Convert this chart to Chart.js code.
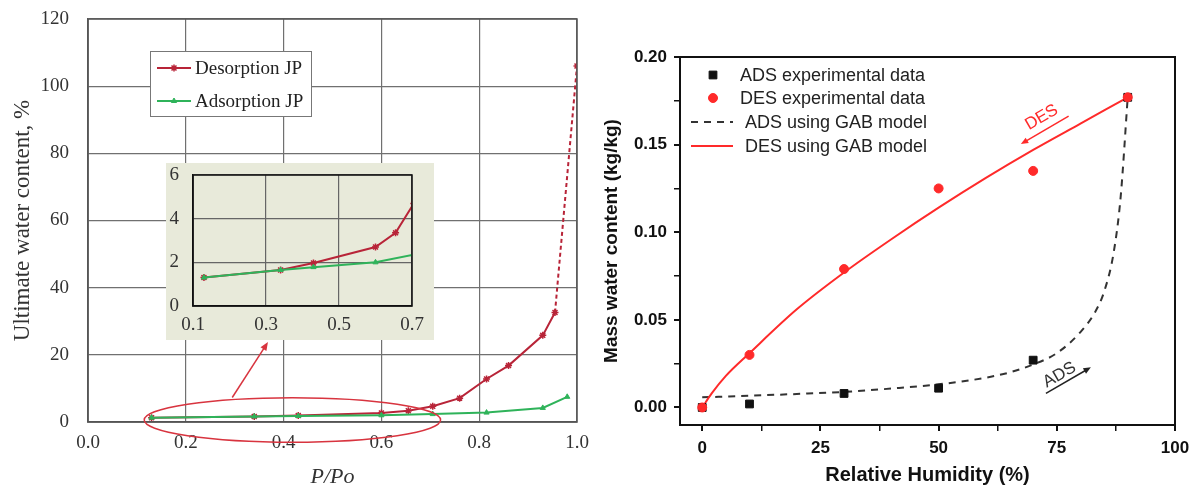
<!DOCTYPE html>
<html>
<head>
<meta charset="utf-8">
<script src="https://cdn.jsdelivr.net/npm/chart.js@4.4.1/dist/chart.umd.min.js"></script>
<style>
  body { margin: 0; background: #fff; }
  #wrap { position: relative; width: 1197px; height: 488px; }
  canvas { position: absolute; }
</style>
</head>
<body>
<div id="wrap">
  <canvas id="c-left" width="600" height="488" style="left:0;top:0"></canvas>
  <canvas id="c-inset" width="268" height="177" style="left:166px;top:163px"></canvas>
  <canvas id="c-right" width="597" height="488" style="left:600px;top:0"></canvas>
</div>
<script>
/* ---- left panel: JP isotherms ---- */
const JP_DES_X = [0.13, 0.34, 0.43, 0.60, 0.655, 0.705, 0.76, 0.815, 0.86, 0.93, 0.955, 1.0];
const JP_DES_Y = [1.3, 1.65, 1.97, 2.7, 3.35, 4.7, 7.1, 12.8, 16.8, 25.8, 32.6, 106];
const JP_ADS_X = [0.13, 0.34, 0.43, 0.60, 0.705, 0.815, 0.93, 0.98];
const JP_ADS_Y = [1.3, 1.65, 1.78, 2.0, 2.35, 2.8, 4.2, 7.5];
const LEFT_X_TICKS = [0, 0.2, 0.4, 0.6, 0.8, 1.0];
const LEFT_Y_TICKS = [0, 20, 40, 60, 80, 100, 120];
const INSET_X_TICKS = [0.1, 0.3, 0.5, 0.7];
const INSET_Y_TICKS = [0, 2, 4, 6];

/* ---- right panel: GAB fits ---- */
const RH_EXP = [0, 10, 30, 50, 70, 90];
const ADS_EXP = [0, 0.002, 0.008, 0.011, 0.027, 0.177];
const DES_EXP = [0, 0.030, 0.079, 0.125, 0.135, 0.177];
const RH_ADS_GAB = [0, 10, 20, 30, 40, 50, 60, 65, 70, 75, 80, 83, 85, 87, 88.5, 90];
const ADS_GAB = [0.0058, 0.0067, 0.0077, 0.0089, 0.0108, 0.0132, 0.017, 0.020, 0.0245, 0.031, 0.043, 0.054, 0.066, 0.088, 0.12, 0.177];
const RH_DES_GAB = [0, 2, 5, 10, 20, 30, 40, 50, 60, 70, 80, 90];
const DES_GAB = [0, 0.008, 0.018, 0.031, 0.056, 0.077, 0.096, 0.114, 0.131, 0.147, 0.162, 0.177];
const RIGHT_X_TICKS = [0, 12.5, 25, 37.5, 50, 62.5, 75, 87.5, 100];
const RIGHT_Y_TICKS = [0, 0.025, 0.05, 0.075, 0.1, 0.125, 0.15, 0.175, 0.2];

const SERIF = "'Liberation Serif', 'Times New Roman', serif";
const SANS = "'Liberation Sans', Arial, sans-serif";
const RED_JP = '#b82438';
const GREEN_JP = '#2fb35a';
const RED = '#ff2a2a';

const pts = (xs, ys) => xs.map((x, i) => ({ x, y: ys[i] }));
// fixed axis sizes so the plot areas land where the original ones are
const fixW = w => s => { s.width = w; s.paddingTop = 0; s.paddingBottom = 0; };
const fixH = h => s => { s.height = h; };
const setTicks = vals => s => { s.ticks = vals.map(v => ({ value: v })); };

function arrow(ctx, x1, y1, x2, y2, color, head) {
    const a = Math.atan2(y2 - y1, x2 - x1);
    ctx.save();
    ctx.strokeStyle = color;
    ctx.fillStyle = color;
    ctx.lineWidth = 1.5;
    ctx.beginPath();
    ctx.moveTo(x1, y1);
    ctx.lineTo(x2 - Math.cos(a) * head * 0.6, y2 - Math.sin(a) * head * 0.6);
    ctx.stroke();
    ctx.beginPath();
    ctx.moveTo(x2, y2);
    ctx.lineTo(x2 - head * Math.cos(a - 0.4), y2 - head * Math.sin(a - 0.4));
    ctx.lineTo(x2 - head * Math.cos(a + 0.4), y2 - head * Math.sin(a + 0.4));
    ctx.closePath();
    ctx.fill();
    ctx.restore();
}

const framePlugin = {
    id: 'frame',
    afterDatasetsDraw(chart, args, opts) {
        const { ctx, chartArea: a } = chart;
        ctx.save();
        ctx.strokeStyle = opts.color;
        ctx.lineWidth = opts.width;
        ctx.strokeRect(a.left, a.top, a.right - a.left, a.bottom - a.top);
        ctx.restore();
    }
};

const bgPlugin = {
    id: 'bg',
    beforeDraw(chart, args, opts) {
        const { ctx, width, height } = chart;
        ctx.save();
        ctx.fillStyle = opts.color;
        ctx.fillRect(0, 0, width, height);
        ctx.restore();
    }
};

function jpDatasets() {
    return [
        {
            label: 'Desorption JP',
            data: pts(JP_DES_X, JP_DES_Y),
            borderColor: RED_JP, backgroundColor: RED_JP,
            borderWidth: 2, pointStyle: 'star', pointRadius: 3.5, pointBorderWidth: 1.5,
            order: 2,
            segment: { borderDash: c => c.p1DataIndex === JP_DES_X.length - 1 ? [4, 3] : undefined }
        },
        {
            label: 'Adsorption JP',
            data: pts(JP_ADS_X, JP_ADS_Y),
            borderColor: GREEN_JP, backgroundColor: GREEN_JP,
            borderWidth: 2, pointStyle: 'triangle', pointRadius: 3, pointBorderWidth: 1,
            order: 1
        }
    ];
}

// legend box + ellipse/arrow callout on the left panel
const leftDecor = {
    id: 'leftDecor',
    afterDatasetsDraw(chart) {
        const { ctx, chartArea: a, scales: { x, y } } = chart;
        // callout ellipse around the low-pressure region
        const cx = x.getPixelForValue(0.418), cy = y.getPixelForValue(0.6);
        const rx = x.getPixelForValue(0.418 + 0.303) - cx;
        const ry = cy - y.getPixelForValue(0.6 + 6.6);
        ctx.save();
        ctx.strokeStyle = '#d8343f';
        ctx.lineWidth = 1.5;
        ctx.beginPath();
        ctx.ellipse(cx, cy, rx, ry, 0, 0, Math.PI * 2);
        ctx.stroke();
        ctx.restore();
        arrow(ctx, x.getPixelForValue(0.295), y.getPixelForValue(7.3),
              x.getPixelForValue(0.368), y.getPixelForValue(23.8), '#d8343f', 9);

        // legend
        const lx = a.left + 62, ly = a.top + 32, lw = 161, lh = 65;
        ctx.save();
        ctx.fillStyle = '#fff';
        ctx.fillRect(lx, ly, lw, lh);
        ctx.strokeStyle = '#777';
        ctx.lineWidth = 1;
        ctx.strokeRect(lx + 0.5, ly + 0.5, lw, lh);
        [0, 1].forEach((di, i) => {
            const ds = chart.data.datasets[di];
            const yy = ly + 17 + i * 33;
            ctx.strokeStyle = ds.borderColor;
            ctx.fillStyle = ds.backgroundColor;
            ctx.lineWidth = 2;
            ctx.beginPath();
            ctx.moveTo(lx + 7, yy);
            ctx.lineTo(lx + 41, yy);
            ctx.stroke();
            ctx.lineWidth = ds.pointBorderWidth;
            Chart.helpers.drawPoint(ctx, { pointStyle: ds.pointStyle, radius: ds.pointRadius, borderWidth: ds.pointBorderWidth, rotation: 0 }, lx + 24, yy);
            ctx.fillStyle = '#222';
            ctx.font = '19px ' + SERIF;
            ctx.textBaseline = 'middle';
            ctx.fillText(ds.label, lx + 45, yy + 1);
        });
        ctx.restore();
    }
};

new Chart(document.getElementById('c-left'), {
    type: 'line',
    data: { datasets: jpDatasets() },
    options: {
        responsive: false,
        animation: false,
        layout: { padding: { top: 19, right: 23, left: 0, bottom: 0 } },
        plugins: { legend: { display: false }, tooltip: { enabled: false }, frame: { color: '#555', width: 1.5 } },
        scales: {
            x: {
                type: 'linear', min: 0, max: 1,
                afterBuildTicks: setTicks(LEFT_X_TICKS),
                afterFit: fixH(66),
                ticks: { callback: v => v.toFixed(1), color: '#333', font: { family: SERIF, size: 19 }, padding: 10, autoSkip: false, maxRotation: 0 },
                grid: { color: '#707070', lineWidth: 1.2, drawTicks: false },
                border: { color: '#555', width: 1.5 },
                title: { display: true, text: 'P/Po', color: '#333', font: { family: SERIF, size: 22, style: 'italic', lineHeight: 1 }, padding: { top: 0, bottom: 0 } }
            },
            y: {
                min: 0, max: 120,
                afterBuildTicks: setTicks(LEFT_Y_TICKS),
                afterFit: fixW(88),
                ticks: { color: '#333', font: { family: SERIF, size: 19 }, padding: 19 },
                grid: { color: '#707070', lineWidth: 1.2, drawTicks: false },
                border: { color: '#555', width: 1.5 },
                title: { display: true, text: 'Ultimate water content, %', color: '#333', font: { family: SERIF, size: 23, lineHeight: 1 }, padding: { top: 11, bottom: 0 } }
            }
        }
    },
    plugins: [framePlugin, leftDecor]
});

new Chart(document.getElementById('c-inset'), {
    type: 'line',
    data: { datasets: jpDatasets() },
    options: {
        responsive: false,
        animation: false,
        layout: { padding: { top: 12, right: 22, left: 0, bottom: 0 } },
        plugins: { legend: { display: false }, tooltip: { enabled: false }, frame: { color: '#111', width: 1.5 }, bg: { color: '#e8eada' } },
        scales: {
            x: {
                type: 'linear', min: 0.1, max: 0.7,
                afterBuildTicks: setTicks(INSET_X_TICKS),
                afterFit: fixH(34),
                ticks: { callback: v => v.toFixed(1), color: '#333', font: { family: SERIF, size: 19 }, padding: 8, autoSkip: false, maxRotation: 0 },
                grid: { color: '#666', lineWidth: 1.2, drawTicks: false },
                border: { color: '#111', width: 1.5 }
            },
            y: {
                min: 0, max: 6,
                afterBuildTicks: setTicks(INSET_Y_TICKS),
                afterFit: fixW(27),
                ticks: { color: '#333', font: { family: SERIF, size: 19 }, padding: 14 },
                grid: { color: '#666', lineWidth: 1.2, drawTicks: false },
                border: { color: '#111', width: 1.5 }
            }
        }
    },
    plugins: [bgPlugin, framePlugin]
});

/* ---- right chart ---- */
const rightDecor = {
    id: 'rightDecor',
    afterDatasetsDraw(chart) {
        const { ctx, chartArea: a, scales: { x, y } } = chart;
        // direction labels
        const label = (txt, vx, vy, color) => {
            ctx.save();
            ctx.translate(x.getPixelForValue(vx), y.getPixelForValue(vy));
            ctx.rotate(-Math.PI / 6);
            ctx.fillStyle = color;
            ctx.font = '17px ' + SANS;
            ctx.textAlign = 'center';
            ctx.textBaseline = 'middle';
            ctx.fillText(txt, 0, 0);
            ctx.restore();
        };
        arrow(ctx, x.getPixelForValue(77.5), y.getPixelForValue(0.1663), x.getPixelForValue(67.4), y.getPixelForValue(0.1503), RED, 8);
        label('DES', 71.8, 0.1655, RED);
        arrow(ctx, x.getPixelForValue(72.7), y.getPixelForValue(0.008), x.getPixelForValue(82.2), y.getPixelForValue(0.0229), '#222', 8);
        label('ADS', 75.6, 0.0185, '#333');

        // legend
        ctx.save();
        ctx.font = '18px ' + SANS;
        ctx.textBaseline = 'middle';
        const rows = [18, 41, 65, 89];
        chart.data.datasets.forEach((ds, i) => {
            const yy = a.top + rows[i];
            if (ds.showLine === false) {
                ctx.fillStyle = ds.backgroundColor;
                ctx.strokeStyle = ds.borderColor;
                ctx.lineWidth = 1;
                Chart.helpers.drawPoint(ctx, { pointStyle: ds.pointStyle, radius: ds.pointRadius, borderWidth: 1, rotation: 0 }, a.left + 33, yy);
            } else {
                ctx.strokeStyle = ds.borderColor;
                ctx.lineWidth = ds.borderWidth;
                ctx.setLineDash(ds.borderDash || []);
                ctx.beginPath();
                ctx.moveTo(a.left + 11, yy);
                ctx.lineTo(a.left + 53, yy);
                ctx.stroke();
                ctx.setLineDash([]);
            }
            ctx.fillStyle = '#222';
            ctx.fillText(ds.label, a.left + (ds.showLine === false ? 60 : 65), yy + 1);
        });
        ctx.restore();
    }
};

new Chart(document.getElementById('c-right'), {
    type: 'line',
    data: {
        datasets: [
            {
                label: 'ADS experimental data', data: pts(RH_EXP, ADS_EXP), showLine: false,
                pointStyle: 'rect', pointRadius: 5.5, backgroundColor: '#111', borderColor: '#111', order: 1
            },
            {
                label: 'DES experimental data', data: pts(RH_EXP, DES_EXP), showLine: false,
                pointStyle: 'circle', pointRadius: 4.5, backgroundColor: RED, borderColor: RED, order: 0
            },
            {
                label: 'ADS using GAB model', data: pts(RH_ADS_GAB, ADS_GAB), borderColor: '#333',
                borderWidth: 2, borderDash: [7, 6], pointRadius: 0, cubicInterpolationMode: 'monotone', order: 3
            },
            {
                label: 'DES using GAB model', data: pts(RH_DES_GAB, DES_GAB), borderColor: RED,
                borderWidth: 2, pointRadius: 0, cubicInterpolationMode: 'monotone', order: 2
            }
        ]
    },
    options: {
        responsive: false,
        animation: false,
        layout: { padding: { top: 57, right: 22, left: 0, bottom: 0 } },
        plugins: { legend: { display: false }, tooltip: { enabled: false }, frame: { color: '#111', width: 2 } },
        scales: {
            x: {
                type: 'linear', min: -4.7, max: 100,
                afterBuildTicks: setTicks(RIGHT_X_TICKS),
                afterFit: fixH(63),
                ticks: { callback: v => (v % 25 === 0 ? v : ''), color: '#111', font: { family: SANS, size: 17, weight: 'bold' }, padding: 7, autoSkip: false, maxRotation: 0 },
                grid: { drawOnChartArea: false, drawTicks: true, tickLength: 6, color: '#111', lineWidth: c => (c.tick && c.tick.value % 25 === 0 ? 2 : 1.5) },
                border: { color: '#111', width: 2 },
                title: { display: true, text: 'Relative Humidity (%)', color: '#111', font: { family: SANS, size: 20, weight: 'bold', lineHeight: 1 }, padding: { top: 0, bottom: 3 } }
            },
            y: {
                min: -0.01, max: 0.2,
                afterBuildTicks: setTicks(RIGHT_Y_TICKS),
                afterFit: fixW(80),
                ticks: { callback: v => (Math.round(v * 1000) % 50 === 0 ? v.toFixed(2) : ''), color: '#111', font: { family: SANS, size: 17, weight: 'bold' }, padding: 7, autoSkip: false },
                grid: { drawOnChartArea: false, drawTicks: true, tickLength: 6, color: '#111', lineWidth: c => (c.tick && Math.round(c.tick.value * 1000) % 50 === 0 ? 2 : 1.5) },
                border: { color: '#111', width: 2 },
                title: { display: true, text: 'Mass water content (kg/kg)', color: '#111', font: { family: SANS, size: 19, weight: 'bold', lineHeight: 1 }, padding: { top: 2, bottom: 0 } }
            }
        }
    },
    plugins: [framePlugin, rightDecor]
});
</script>
</body>
</html>
